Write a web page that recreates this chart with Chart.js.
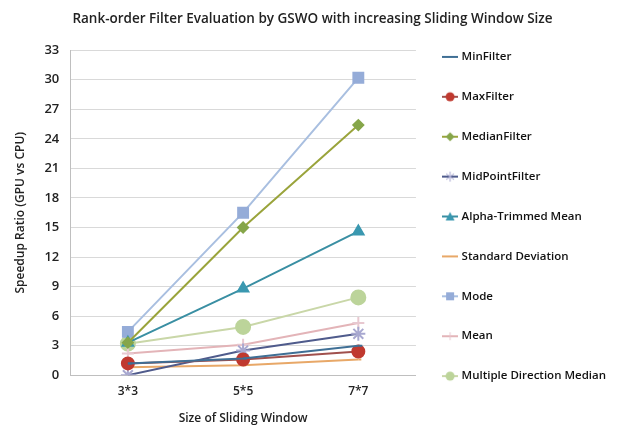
<!DOCTYPE html>
<html lang="en">
<head>
<meta charset="UTF-8">
<title>Rank-order Filter Evaluation</title>
<script src="https://cdn.jsdelivr.net/npm/chart.js"></script>
<style>
  html, body { margin: 0; padding: 0; background: #fff; }
  #wrap { width: 620px; height: 426px; }
</style>
</head>
<body>
<div id="wrap"><canvas id="chart" width="620" height="426"></canvas></div>
<script>
// data
const windows = ['3*3', '5*5', '7*7'];
const minFilter = [1.2, 1.7, 3.0];
const maxFilter = [1.2, 1.6, 2.4];
const medianFilter = [3.3, 15.0, 25.4];
const midPointFilter = [0.0, 2.5, 4.2];
const alphaTrimmed = [3.3, 8.8, 14.6];
const stdDeviation = [0.8, 1.0, 1.6];
const modeFilter = [4.4, 16.5, 30.2];
const meanFilter = [2.2, 3.1, 5.3];
const multiDirMedian = [3.2, 4.9, 7.9];
const yTicks = [0, 3, 6, 9, 12, 15, 18, 21, 24, 27, 30, 33];

const FONT = "'Open Sans', sans-serif";

// small legend icon: line segment with the marker on it
function legendIcon(color, marker, mColor) {
  const c = document.createElement('canvas');
  c.width = 16; c.height = 14;
  const g = c.getContext('2d');
  g.strokeStyle = color; g.lineWidth = 2;
  g.beginPath(); g.moveTo(0, 7); g.lineTo(16, 7); g.stroke();
  g.fillStyle = mColor; g.strokeStyle = mColor;
  if (marker === 'circle') { g.beginPath(); g.arc(8, 7, 4.5, 0, Math.PI * 2); g.fill(); }
  if (marker === 'rect') { g.fillRect(4, 3, 8, 8); }
  if (marker === 'rectRot') { g.beginPath(); g.moveTo(8, 2.5); g.lineTo(12.5, 7); g.lineTo(8, 11.5); g.lineTo(3.5, 7); g.closePath(); g.fill(); }
  if (marker === 'triangle') { g.beginPath(); g.moveTo(8, 2.5); g.lineTo(12.5, 11); g.lineTo(3.5, 11); g.closePath(); g.fill(); }
  if (marker === 'star') { g.lineWidth = 1; g.beginPath(); g.moveTo(4, 4); g.lineTo(12, 10); g.moveTo(12, 4); g.lineTo(4, 10); g.moveTo(8, 2); g.lineTo(8, 12); g.stroke(); }
  if (marker === 'cross') { g.lineWidth = 1; g.beginPath(); g.moveTo(8, 3); g.lineTo(8, 11); g.stroke(); }
  return c;
}

function series(label, data, color, marker, mColor, radius) {
  return {
    label: label,
    data: data,
    borderColor: color,
    backgroundColor: mColor,
    borderWidth: 2,
    pointStyle: marker,
    pointRadius: radius,
    pointBorderColor: mColor,
    pointBackgroundColor: mColor,
    legendIcon: legendIcon(color, marker, mColor),
    tension: 0
  };
}

const datasets = [
  series('MinFilter', minFilter, '#3f6f95', 'dash', '#3f6f95', 4),
  series('MaxFilter', maxFilter, '#a0504d', 'circle', '#c0392f', 6),
  series('MedianFilter', medianFilter, '#9aa43c', 'rectRot', '#86a64a', 5),
  series('MidPointFilter', midPointFilter, '#4f5b8c', 'star', '#a8a8d0', 7),
  series('Alpha-Trimmed Mean', alphaTrimmed, '#3a8fa3', 'triangle', '#3a98b0', 6),
  series('Standard Deviation', stdDeviation, '#e8a868', 'dash', '#e8a868', 3),
  series('Mode', modeFilter, '#a9bfe0', 'rect', '#95acd8', 7),
  series('Mean', meanFilter, '#e3b4b8', 'cross', '#e8c8d0', 6),
  series('Multiple Direction Median', multiDirMedian, '#c9d7a8', 'circle', '#bcd49a', 7)
];

new Chart(document.getElementById('chart'), {
  type: 'line',
  data: { labels: windows, datasets: datasets },
  options: {
    responsive: false,
    animation: false,
    layout: { padding: { left: 9, right: 4, top: 7, bottom: 0 } },
    plugins: {
      title: {
        display: true,
        text: 'Rank-order Filter Evaluation by GSWO with increasing Sliding Window Size',
        color: '#222',
        font: { family: FONT, size: 13.5, weight: '600' },
        padding: { top: 4, bottom: 23 }
      },
      legend: {
        position: 'right',
        align: 'center',
        maxWidth: 220,
        labels: {
          color: '#111',
          font: { family: FONT, size: 11.5, weight: '600' },
          usePointStyle: true,
          padding: 28.4,
          generateLabels: function (chart) {
            return chart.data.datasets.map(function (ds, i) {
              return {
                text: ds.label,
                pointStyle: ds.legendIcon,
                fillStyle: ds.borderColor,
                strokeStyle: ds.borderColor,
                lineWidth: 0,
                hidden: false,
                datasetIndex: i,
                fontColor: '#111'
              };
            });
          }
        }
      },
      tooltip: { enabled: false }
    },
    scales: {
      x: {
        offset: true,
        grid: { display: false, drawTicks: false },
        border: { color: '#bfbfbf' },
        ticks: { color: '#222', font: { family: FONT, size: 12, weight: '600' }, padding: 9 },
        title: { display: true, text: 'Size of Sliding Window', color: '#222', font: { family: FONT, size: 12, weight: '600' }, padding: { top: 4, bottom: 0 } }
      },
      y: {
        min: 0,
        max: 33,
        afterBuildTicks: function (axis) { axis.ticks = yTicks.map(function (v) { return { value: v }; }); },
        grid: { color: '#d9d9d9', drawTicks: false },
        border: { color: '#bfbfbf' },
        ticks: { color: '#222', font: { family: FONT, size: 13, weight: '600' }, padding: 11 },
        title: { display: true, text: 'Speedup Ratio (GPU vs CPU)', color: '#222', font: { family: FONT, size: 12, weight: '600' }, padding: { bottom: 6 } }
      }
    }
  }
});
</script>
</body>
</html>
